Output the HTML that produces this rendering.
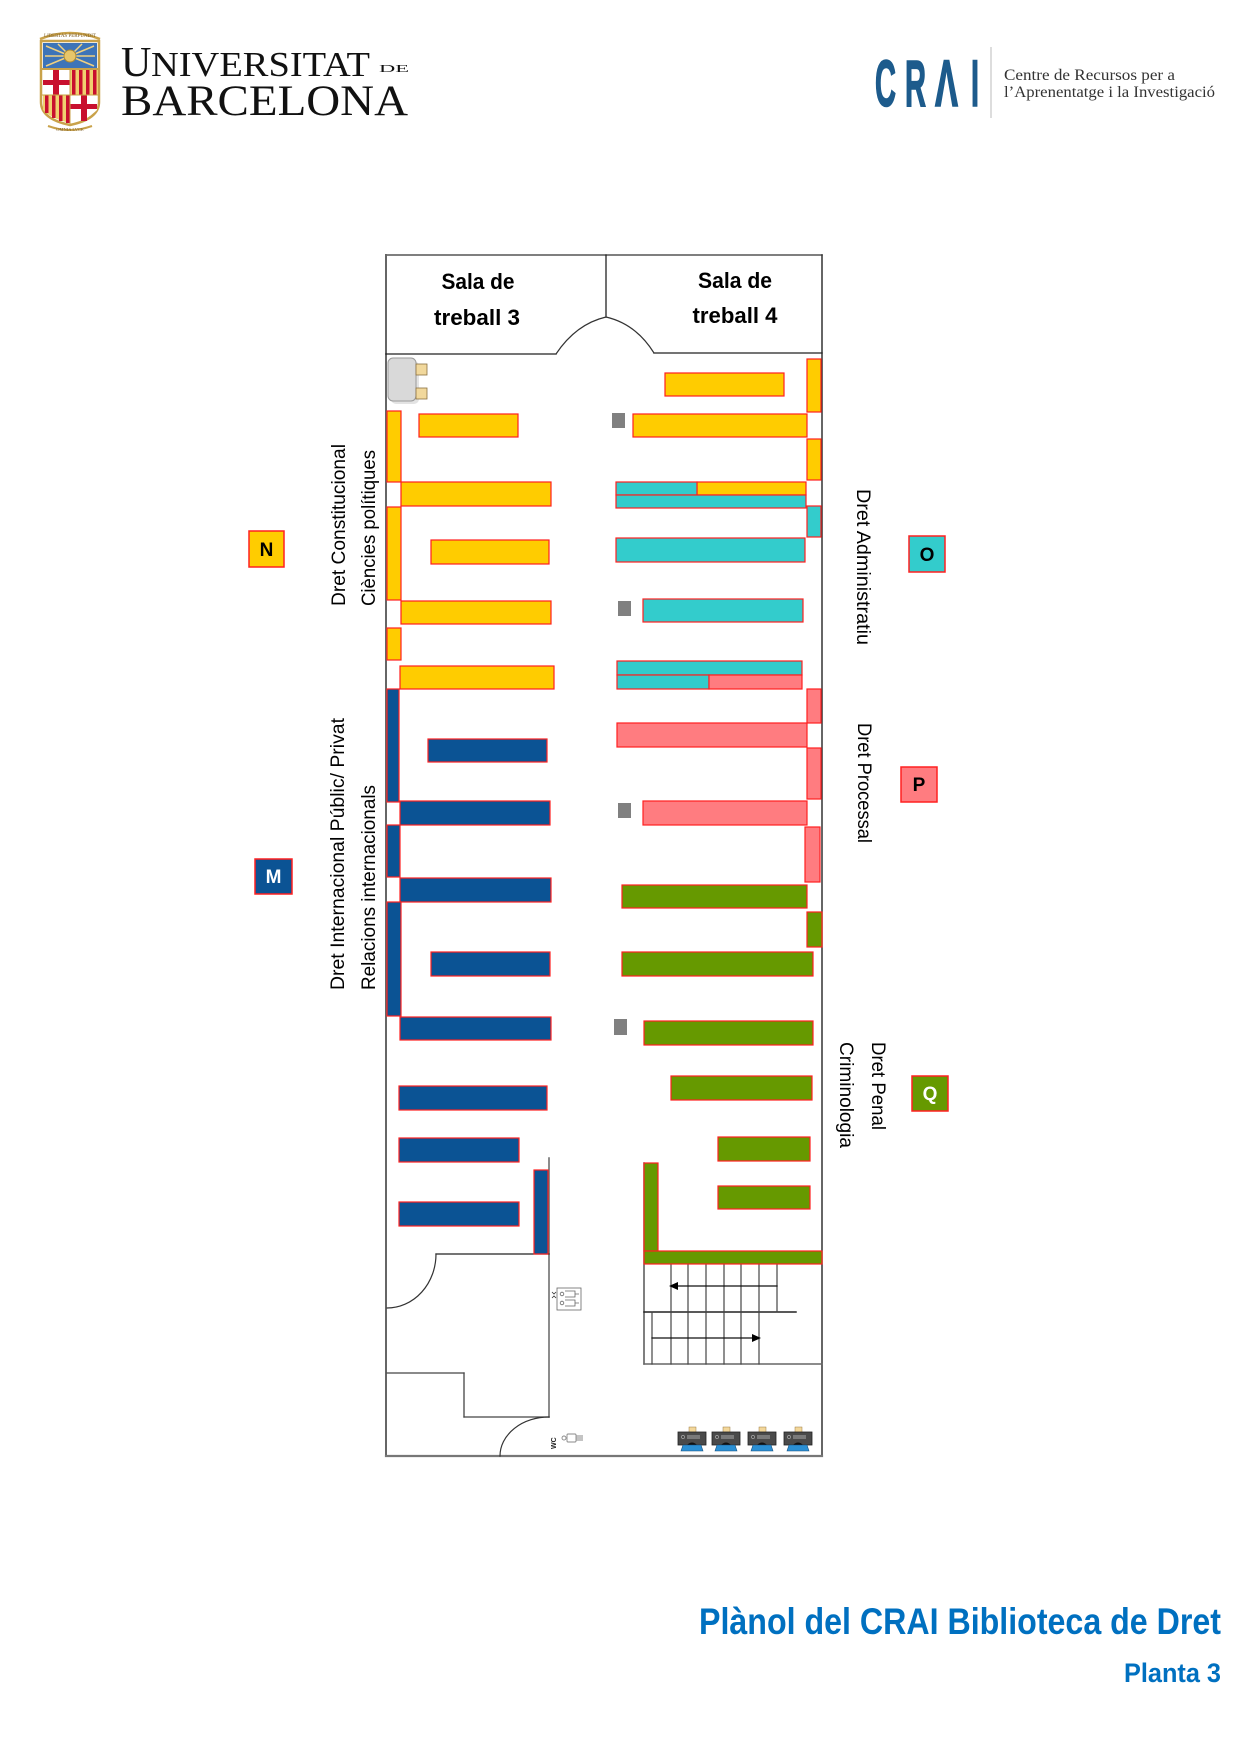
<!DOCTYPE html>
<html>
<head>
<meta charset="utf-8">
<style>
  html,body{margin:0;padding:0;background:#fff;}
  body{width:1240px;height:1754px;overflow:hidden;}
  svg{display:block;}
  .lbl{font-family:"Liberation Sans",Arial,sans-serif;font-size:19px;fill:#000;}
  .box{font-family:"Liberation Sans",Arial,sans-serif;font-size:19px;font-weight:bold;}
  .room{font-family:"Liberation Sans",Arial,sans-serif;font-size:22px;font-weight:bold;fill:#000;}
  .serif{font-family:"Liberation Serif","Times New Roman",serif;}
</style>
</head>
<body>
<svg width="1240" height="1754" viewBox="0 0 1240 1754" xmlns="http://www.w3.org/2000/svg">
  <rect x="0" y="0" width="1240" height="1754" fill="#fff"/>

  <!-- ===== UB logo ===== -->
  <g>
    <path d="M40,39 Q70,27 100,39" fill="none" stroke="#c9a24a" stroke-width="2.5"/>
    <text x="70" y="37" text-anchor="middle" class="serif" font-size="5" fill="#7a5a20">LIBERTAS PERFUNDIT</text>
    <path d="M41,41 L99,41 L99,102 Q99,119 70,125 Q41,119 41,102 Z" fill="#fff" stroke="#c9a24a" stroke-width="2.5"/>
    <rect x="43" y="43" width="54" height="25" fill="#3d74b8"/>
    <g stroke="#f0d080" stroke-width="1.5">
      <line x1="70" y1="56" x2="46" y2="46"/><line x1="70" y1="56" x2="94" y2="46"/>
      <line x1="70" y1="56" x2="45" y2="56"/><line x1="70" y1="56" x2="95" y2="56"/>
      <line x1="70" y1="56" x2="46" y2="66"/><line x1="70" y1="56" x2="94" y2="66"/>
      <line x1="70" y1="56" x2="58" y2="44"/><line x1="70" y1="56" x2="82" y2="44"/>
    </g>
    <circle cx="70" cy="56" r="6" fill="#e8c66a" stroke="#b08a30" stroke-width="1"/>
    <line x1="42" y1="69" x2="98" y2="69" stroke="#c9a24a" stroke-width="2"/>
    <rect x="43" y="70" width="27" height="25" fill="#fff"/>
    <rect x="53" y="70" width="6" height="25" fill="#c8102e"/>
    <rect x="43" y="80" width="27" height="5" fill="#c8102e"/>
    <rect x="70" y="70" width="28" height="25" fill="#f0d070"/>
    <g fill="#c8102e">
      <rect x="72" y="70" width="3.5" height="25"/><rect x="79" y="70" width="3.5" height="25"/>
      <rect x="86" y="70" width="3.5" height="25"/><rect x="93" y="70" width="3.5" height="25"/>
    </g>
    <path d="M43,95 L70,95 L70,123 Q52,119 43,110 Z" fill="#f0d070"/>
    <g fill="#c8102e">
      <rect x="45" y="95" width="3.5" height="18"/><rect x="52" y="95" width="3.5" height="23"/>
      <rect x="59" y="95" width="3.5" height="26"/><rect x="66" y="95" width="3.5" height="28"/>
    </g>
    <path d="M70,95 L97,95 L97,110 Q88,119 70,123 Z" fill="#fff"/>
    <rect x="81" y="95" width="6" height="26" fill="#c8102e"/>
    <rect x="70" y="104" width="27" height="5" fill="#c8102e"/>
    <line x1="70" y1="70" x2="70" y2="124" stroke="#c9a24a" stroke-width="1"/>
    <line x1="42" y1="95" x2="98" y2="95" stroke="#c9a24a" stroke-width="1"/>
    <path d="M48,126 Q70,134 92,126" fill="none" stroke="#c9a24a" stroke-width="2"/>
    <text x="70" y="131" text-anchor="middle" class="serif" font-size="4.5" fill="#7a5a20">OMNIA LVCE</text>
  </g>
  <text x="121" y="76" class="serif" font-size="42" fill="#111">U</text>
  <text x="151" y="76" class="serif" font-size="35" fill="#111" textLength="219" lengthAdjust="spacingAndGlyphs">NIVERSITAT</text>
  <text x="379" y="72" class="serif" font-size="11" fill="#111" textLength="30" lengthAdjust="spacingAndGlyphs">DE</text>
  <text x="121" y="115" class="serif" font-size="43" fill="#111" textLength="287" lengthAdjust="spacingAndGlyphs">BARCELONA</text>

  <!-- ===== CRAI logo ===== -->
  <g font-family="'Liberation Sans',Arial,sans-serif" font-size="66" font-weight="bold" fill="#1d5b8c" stroke="#1d5b8c" stroke-width="1.6">
    <text x="875" y="106" textLength="21" lengthAdjust="spacingAndGlyphs">C</text>
    <text x="905" y="106" textLength="21" lengthAdjust="spacingAndGlyphs">R</text>
    <text x="935" y="106" textLength="23" lengthAdjust="spacingAndGlyphs">Λ</text>
    <text x="971" y="106" textLength="8" lengthAdjust="spacingAndGlyphs">I</text>
  </g>
  <line x1="991" y1="47" x2="991" y2="118" stroke="#bbb" stroke-width="1"/>
  <text x="1004" y="80" class="serif" font-size="16" fill="#333" textLength="171" lengthAdjust="spacingAndGlyphs">Centre de Recursos per a</text>
  <text x="1004" y="97" class="serif" font-size="16" fill="#333" textLength="211" lengthAdjust="spacingAndGlyphs">l’Aprenentatge i la Investigació</text>

  <!-- ===== Floor plan frame ===== -->
  <g fill="none" stroke-linecap="square">
    <line x1="386" y1="255" x2="822" y2="255" stroke="#555" stroke-width="1.5"/>
    <line x1="386" y1="255" x2="386" y2="1456" stroke="#666" stroke-width="2"/>
    <line x1="822" y1="255" x2="822" y2="1456" stroke="#333" stroke-width="1.5"/>
    <line x1="386" y1="1456" x2="822" y2="1456" stroke="#777" stroke-width="2.2"/>
    <line x1="606" y1="255" x2="606" y2="317" stroke="#222" stroke-width="1.3"/>
    <line x1="386" y1="354" x2="556" y2="354" stroke="#222" stroke-width="1.3"/>
    <line x1="654" y1="353" x2="822" y2="353" stroke="#222" stroke-width="1.3"/>
    <path d="M556,354 Q576,324 606,317" stroke="#333" stroke-width="1.2"/>
    <path d="M606,317 Q636,324 654,353" stroke="#333" stroke-width="1.2"/>
    <line x1="549" y1="1158" x2="549" y2="1417" stroke="#666" stroke-width="1.5"/>
    <line x1="436" y1="1254" x2="549" y2="1254" stroke="#222" stroke-width="1.3"/>
    <path d="M436,1254 A49,54 0 0 1 387,1308" stroke="#333" stroke-width="1.2"/>
    <line x1="387" y1="1373" x2="464" y2="1373" stroke="#444" stroke-width="1.3"/>
    <line x1="464" y1="1373" x2="464" y2="1417" stroke="#444" stroke-width="1.3"/>
    <line x1="464" y1="1417" x2="549" y2="1417" stroke="#444" stroke-width="1.3"/>
    <path d="M549,1417 A49,39 0 0 0 500,1456" stroke="#333" stroke-width="1.2"/>
    <line x1="644" y1="1163" x2="644" y2="1364" stroke="#555" stroke-width="1.5"/>
    <line x1="644" y1="1364" x2="822" y2="1364" stroke="#666" stroke-width="1.5"/>
    <line x1="644" y1="1312" x2="796" y2="1312" stroke="#222" stroke-width="1.5"/>
    <g stroke="#444" stroke-width="1.2">
      <line x1="671" y1="1264" x2="671" y2="1312"/><line x1="688" y1="1264" x2="688" y2="1312"/>
      <line x1="706" y1="1264" x2="706" y2="1312"/><line x1="724" y1="1264" x2="724" y2="1312"/>
      <line x1="741" y1="1264" x2="741" y2="1312"/><line x1="759" y1="1264" x2="759" y2="1312"/>
      <line x1="777" y1="1264" x2="777" y2="1312"/>
      <line x1="652" y1="1312" x2="652" y2="1364"/><line x1="671" y1="1312" x2="671" y2="1364"/>
      <line x1="688" y1="1312" x2="688" y2="1364"/><line x1="706" y1="1312" x2="706" y2="1364"/>
      <line x1="724" y1="1312" x2="724" y2="1364"/><line x1="741" y1="1312" x2="741" y2="1364"/>
      <line x1="759" y1="1312" x2="759" y2="1364"/>
    </g>
    <line x1="777" y1="1286" x2="676" y2="1286" stroke="#111" stroke-width="1.3"/>
    <line x1="652" y1="1338" x2="754" y2="1338" stroke="#111" stroke-width="1.3"/>
  </g>
  <path d="M669,1286 L678,1282 L678,1290 Z" fill="#000"/>
  <path d="M761,1338 L752,1334 L752,1342 Z" fill="#000"/>

  <!-- ===== Shelves ===== -->
  <g stroke="#ff2020" stroke-width="1.2">
    <g fill="#ffcc00">
      <rect x="387" y="411" width="14" height="71"/>
      <rect x="419" y="414" width="99" height="23"/>
      <rect x="401" y="482" width="150" height="24"/>
      <rect x="387" y="507" width="14" height="93"/>
      <rect x="431" y="540" width="118" height="24"/>
      <rect x="401" y="601" width="150" height="23"/>
      <rect x="387" y="628" width="14" height="32"/>
      <rect x="400" y="666" width="154" height="23"/>
    </g>
    <g fill="#0b5394">
      <rect x="387" y="689" width="12" height="113"/>
      <rect x="428" y="739" width="119" height="23"/>
      <rect x="400" y="801" width="150" height="24"/>
      <rect x="387" y="825" width="13" height="52"/>
      <rect x="400" y="878" width="151" height="24"/>
      <rect x="387" y="902" width="14" height="114"/>
      <rect x="431" y="952" width="119" height="24"/>
      <rect x="400" y="1017" width="151" height="23"/>
      <rect x="399" y="1086" width="148" height="24"/>
      <rect x="399" y="1138" width="120" height="24"/>
      <rect x="399" y="1202" width="120" height="24"/>
      <rect x="534" y="1170" width="14" height="84"/>
    </g>
    <g fill="#ffcc00">
      <rect x="665" y="373" width="119" height="23"/>
      <rect x="807" y="359" width="14" height="53"/>
      <rect x="633" y="414" width="174" height="23"/>
      <rect x="807" y="439" width="14" height="41"/>
      <rect x="697" y="482" width="109" height="13"/>
    </g>
    <g fill="#33cccc">
      <rect x="616" y="482" width="81" height="13"/>
      <rect x="616" y="495" width="190" height="13"/>
      <rect x="807" y="506" width="14" height="31"/>
      <rect x="616" y="538" width="189" height="24"/>
      <rect x="643" y="599" width="160" height="23"/>
      <rect x="617" y="661" width="185" height="14"/>
      <rect x="617" y="675" width="92" height="14"/>
    </g>
    <g fill="#ff7c80">
      <rect x="709" y="675" width="93" height="14"/>
      <rect x="807" y="689" width="14" height="34"/>
      <rect x="617" y="723" width="190" height="24"/>
      <rect x="807" y="748" width="14" height="51"/>
      <rect x="643" y="801" width="164" height="24"/>
      <rect x="805" y="827" width="15" height="55"/>
    </g>
    <g fill="#669900">
      <rect x="622" y="885" width="185" height="23"/>
      <rect x="807" y="912" width="15" height="35"/>
      <rect x="622" y="952" width="191" height="24"/>
      <rect x="644" y="1021" width="169" height="24"/>
      <rect x="671" y="1076" width="141" height="24"/>
      <rect x="718" y="1137" width="92" height="24"/>
      <rect x="718" y="1186" width="92" height="23"/>
      <rect x="644" y="1163" width="14" height="88"/>
      <rect x="644" y="1251" width="178" height="13"/>
    </g>
  </g>

  <g fill="#808080">
    <rect x="612" y="413" width="13" height="15"/>
    <rect x="618" y="601" width="13" height="15"/>
    <rect x="618" y="803" width="13" height="15"/>
    <rect x="614" y="1019" width="13" height="16"/>
  </g>

  <!-- copier -->
  <rect x="391" y="361" width="28" height="43" rx="5" fill="#c8c8c8" opacity="0.5"/>
  <rect x="388" y="358" width="28" height="43" rx="5" fill="#d9d9d9" stroke="#9a9a9a" stroke-width="1"/>
  <rect x="416" y="364" width="11" height="11" fill="#f1d89c" stroke="#8a7040" stroke-width="0.8"/>
  <rect x="416" y="388" width="11" height="11" fill="#f1d89c" stroke="#8a7040" stroke-width="0.8"/>

  <!-- elevator icon -->
  <g fill="none" stroke="#666" stroke-width="0.8">
    <rect x="557" y="1288" width="24" height="22"/>
    <circle cx="562" cy="1294" r="1.8"/>
    <circle cx="562" cy="1303" r="1.8"/>
    <path d="M565,1291 L575,1291 L575,1297 L565,1297 M575,1294 L579,1294"/>
    <path d="M565,1300 L575,1300 L575,1306 L565,1306 M575,1303 L579,1303"/>
    <path d="M552,1292 L554,1294 L556,1292" stroke="#333"/>
    <path d="M552,1298 L554,1296 L556,1298" stroke="#333"/>
  </g>

  <!-- WC -->
  <text transform="translate(556,1449) rotate(-90)" font-family="'Liberation Sans',Arial,sans-serif" font-size="7" font-weight="bold" fill="#222">WC</text>
  <g fill="none" stroke="#888" stroke-width="0.9">
    <circle cx="564" cy="1438" r="2"/>
    <rect x="567" y="1434" width="9" height="8" rx="1"/>
    <path d="M576,1436 L583,1436 M576,1438 L583,1438 M576,1440 L583,1440"/>
  </g>

  <!-- computers -->
  <g>
    <g transform="translate(678,0)">
      <rect x="11" y="1427" width="7" height="6" fill="#f3d79a" stroke="#9b7d45" stroke-width="0.5"/>
      <rect x="0" y="1432" width="28" height="13" fill="#4a4a4a" stroke="#222" stroke-width="0.8"/>
      <rect x="9" y="1435" width="13" height="4" fill="#7a7a7a"/>
      <circle cx="5" cy="1437" r="1.6" fill="none" stroke="#bbb" stroke-width="0.6"/>
      <path d="M9,1445 Q14,1440 19,1445 Z" fill="#111"/>
      <path d="M5,1445 L23,1445 L25,1451 L3,1451 Z" fill="#2b8fd3" stroke="#17507e" stroke-width="0.6"/>
    </g>
    <g transform="translate(712,0)">
      <rect x="11" y="1427" width="7" height="6" fill="#f3d79a" stroke="#9b7d45" stroke-width="0.5"/>
      <rect x="0" y="1432" width="28" height="13" fill="#4a4a4a" stroke="#222" stroke-width="0.8"/>
      <rect x="9" y="1435" width="13" height="4" fill="#7a7a7a"/>
      <circle cx="5" cy="1437" r="1.6" fill="none" stroke="#bbb" stroke-width="0.6"/>
      <path d="M9,1445 Q14,1440 19,1445 Z" fill="#111"/>
      <path d="M5,1445 L23,1445 L25,1451 L3,1451 Z" fill="#2b8fd3" stroke="#17507e" stroke-width="0.6"/>
    </g>
    <g transform="translate(748,0)">
      <rect x="11" y="1427" width="7" height="6" fill="#f3d79a" stroke="#9b7d45" stroke-width="0.5"/>
      <rect x="0" y="1432" width="28" height="13" fill="#4a4a4a" stroke="#222" stroke-width="0.8"/>
      <rect x="9" y="1435" width="13" height="4" fill="#7a7a7a"/>
      <circle cx="5" cy="1437" r="1.6" fill="none" stroke="#bbb" stroke-width="0.6"/>
      <path d="M9,1445 Q14,1440 19,1445 Z" fill="#111"/>
      <path d="M5,1445 L23,1445 L25,1451 L3,1451 Z" fill="#2b8fd3" stroke="#17507e" stroke-width="0.6"/>
    </g>
    <g transform="translate(784,0)">
      <rect x="11" y="1427" width="7" height="6" fill="#f3d79a" stroke="#9b7d45" stroke-width="0.5"/>
      <rect x="0" y="1432" width="28" height="13" fill="#4a4a4a" stroke="#222" stroke-width="0.8"/>
      <rect x="9" y="1435" width="13" height="4" fill="#7a7a7a"/>
      <circle cx="5" cy="1437" r="1.6" fill="none" stroke="#bbb" stroke-width="0.6"/>
      <path d="M9,1445 Q14,1440 19,1445 Z" fill="#111"/>
      <path d="M5,1445 L23,1445 L25,1451 L3,1451 Z" fill="#2b8fd3" stroke="#17507e" stroke-width="0.6"/>
    </g>
  </g>

  <!-- room labels -->
  <text x="478" y="289" text-anchor="middle" class="room" textLength="73" lengthAdjust="spacingAndGlyphs">Sala de</text>
  <text x="477" y="325" text-anchor="middle" class="room" textLength="86" lengthAdjust="spacingAndGlyphs">treball 3</text>
  <text x="735" y="288" text-anchor="middle" class="room" textLength="74" lengthAdjust="spacingAndGlyphs">Sala de</text>
  <text x="735" y="323" text-anchor="middle" class="room" textLength="85" lengthAdjust="spacingAndGlyphs">treball 4</text>

  <!-- side labels (left) -->
  <text class="lbl" transform="translate(345,606) rotate(-90)" textLength="162" lengthAdjust="spacingAndGlyphs">Dret Constitucional</text>
  <text class="lbl" transform="translate(375,606) rotate(-90)" textLength="156" lengthAdjust="spacingAndGlyphs">Ciències polítiques</text>
  <text class="lbl" transform="translate(344,990) rotate(-90)" textLength="272" lengthAdjust="spacingAndGlyphs">Dret Internacional Públic/ Privat</text>
  <text class="lbl" transform="translate(375,990) rotate(-90)" textLength="205" lengthAdjust="spacingAndGlyphs">Relacions internacionals</text>

  <!-- side labels (right) -->
  <text class="lbl" transform="translate(857,489) rotate(90)" textLength="156" lengthAdjust="spacingAndGlyphs">Dret Administratiu</text>
  <text class="lbl" transform="translate(858,723) rotate(90)" textLength="120" lengthAdjust="spacingAndGlyphs">Dret Processal</text>
  <text class="lbl" transform="translate(872,1042) rotate(90)" textLength="88" lengthAdjust="spacingAndGlyphs">Dret Penal</text>
  <text class="lbl" transform="translate(840,1042) rotate(90)" textLength="106" lengthAdjust="spacingAndGlyphs">Criminologia</text>

  <!-- letter boxes -->
  <rect x="249" y="531" width="35" height="36" fill="#ffcc00" stroke="#ff2020" stroke-width="1.5"/>
  <text x="266.5" y="556" text-anchor="middle" class="box" fill="#000">N</text>
  <rect x="255" y="859" width="37" height="35" fill="#0b5394" stroke="#ff2020" stroke-width="1.5"/>
  <text x="273.5" y="883" text-anchor="middle" class="box" fill="#fff">M</text>
  <rect x="909" y="536" width="36" height="36" fill="#33cccc" stroke="#ff2020" stroke-width="1.5"/>
  <text x="927" y="561" text-anchor="middle" class="box" fill="#000">O</text>
  <rect x="901" y="767" width="36" height="35" fill="#ff7c80" stroke="#ff2020" stroke-width="1.5"/>
  <text x="919" y="791" text-anchor="middle" class="box" fill="#000">P</text>
  <rect x="912" y="1076" width="36" height="35" fill="#669900" stroke="#ff2020" stroke-width="1.5"/>
  <text x="930" y="1100" text-anchor="middle" class="box" fill="#fff">Q</text>

  <!-- title -->
  <text x="1221" y="1634" text-anchor="end" font-family="'Liberation Sans',Arial,sans-serif" font-size="37" font-weight="bold" fill="#0070c0" textLength="522" lengthAdjust="spacingAndGlyphs">Plànol del CRAI Biblioteca de Dret</text>
  <text x="1221" y="1682" text-anchor="end" font-family="'Liberation Sans',Arial,sans-serif" font-size="27" font-weight="bold" fill="#0070c0" textLength="97" lengthAdjust="spacingAndGlyphs">Planta 3</text>
</svg>
</body>
</html>
